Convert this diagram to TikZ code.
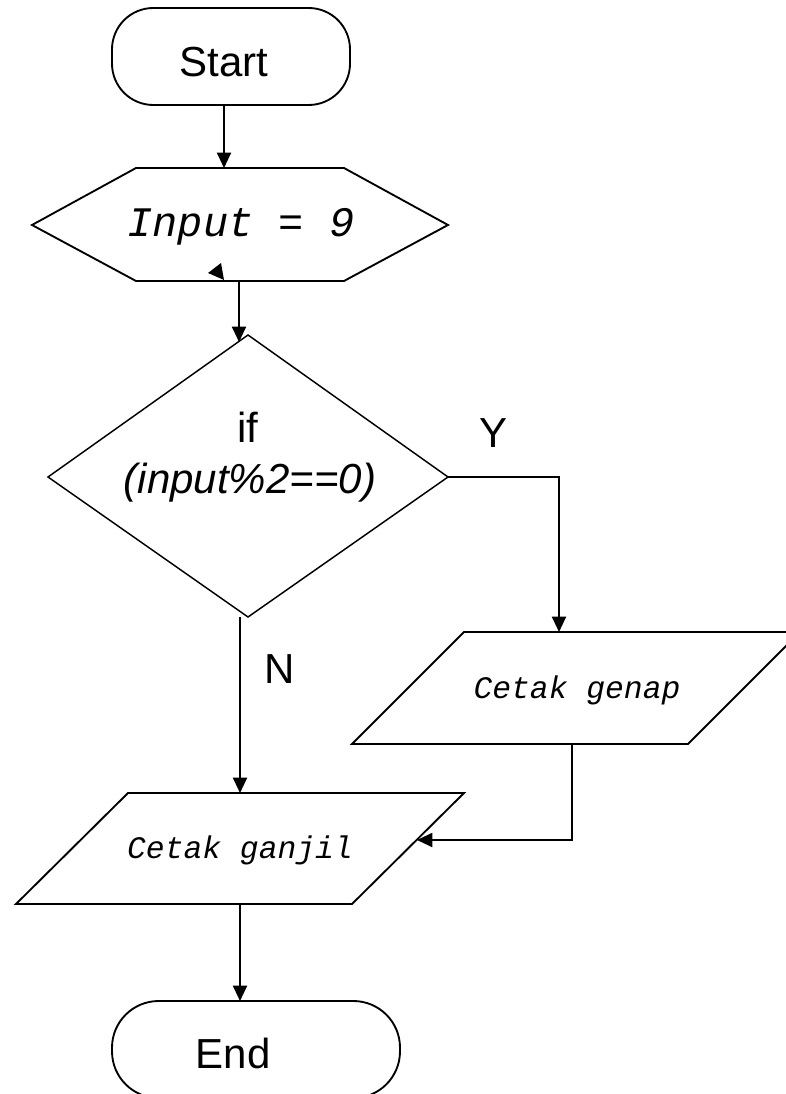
\documentclass[tikz,border=0pt]{standalone}
\usepackage{fontspec}
\setmainfont{Liberation Sans}
\newfontfamily\monoit{Liberation Mono}
\usetikzlibrary{arrows.meta}
\begin{document}
\begin{tikzpicture}[x=0.75pt,y=-0.75pt,
  shapeline/.style={draw=black, line width=1.4pt, line join=miter},
  thinshape/.style={draw=black, line width=1.1pt, line join=miter},
  conn/.style={draw=black, line width=1.5pt, -{Triangle[length=11.5pt,width=10.5pt]}},
  sanslabel/.style={font=\fontsize{31.5}{36}\selectfont, inner sep=0pt, anchor=base},
  monolabel/.style={font=\monoit\itshape\fontsize{31.5}{36}\selectfont, inner sep=0pt, anchor=base},
  monosmall/.style={font=\monoit\itshape\fontsize{23.5}{28}\selectfont, inner sep=0pt, anchor=base},
]
\useasboundingbox (0,0) rectangle (785,1094);
\fill[white] (0,0) rectangle (785,1094);

% ---- shapes ----
% Start terminator
\draw[shapeline, rounded corners=31pt] (112,8) rectangle (350,105);
% Input hexagon
\draw[shapeline] (32,225) -- (136,168) -- (344,168) -- (448,225) -- (344,281) -- (136,281) -- cycle;
\fill[black] (208,273) -- (221,263) -- (224,280) -- cycle;
% Decision diamond
\draw[thinshape] (248,335) -- (448,477) -- (248,617) -- (48,477) -- cycle;
% Cetak genap parallelogram
\draw[shapeline] (464,632) -- (800,632) -- (688,744) -- (352,744) -- cycle;
% Cetak ganjil parallelogram
\draw[shapeline] (128,793) -- (464,793) -- (352,904) -- (16,904) -- cycle;
% End terminator
\draw[shapeline, rounded corners=35pt] (112,1001) rectangle (400,1098);

% ---- texts ----
\node[sanslabel] (tstart) at (224,77) {Start};
\node[monolabel] (tinput) at (241,237) {Input = 9};
\node[sanslabel] (tif) at (248,442) {if};
\node[sanslabel, font=\itshape\fontsize{31.5}{36}\selectfont] (tcond) at (250,493) {(input\%2==0)};
\node[sanslabel] (ty) at (493,447) {Y};
\node[sanslabel] (tn) at (280,683) {N};
\node[monosmall] (tgenap) at (577,698) {Cetak genap};
\node[monosmall] (tganjil) at (240,858) {Cetak ganjil};
\node[sanslabel] (tend) at (233,1068) {End};

% ---- connection points ----
\coordinate (startB) at (224,105);
\coordinate (hexT) at (224,168);
\coordinate (hexB) at (239,281);
\coordinate (diaT) at (239,342);
\coordinate (diaR) at (448,477);
\coordinate (yCorner) at (559,477);
\coordinate (genT) at (559,632);
\coordinate (diaB) at (240,617);
\coordinate (ganT) at (240,793);
\coordinate (genB) at (572,744);
\coordinate (genCorner) at (572,840);
\coordinate (ganR) at (417,840);
\coordinate (ganB) at (240,904);
\coordinate (endT) at (240,1001);

% ---- connectors ----
\draw[conn] (startB) -- (hexT);
\draw[conn] (hexB) -- (diaT);
\draw[conn] (diaR) -- (yCorner) -- (genT);
\draw[conn] (diaB) -- (ganT);
\draw[conn] (genB) -- (genCorner) -- (ganR);
\draw[conn] (ganB) -- (endT);
\end{tikzpicture}
\end{document}
